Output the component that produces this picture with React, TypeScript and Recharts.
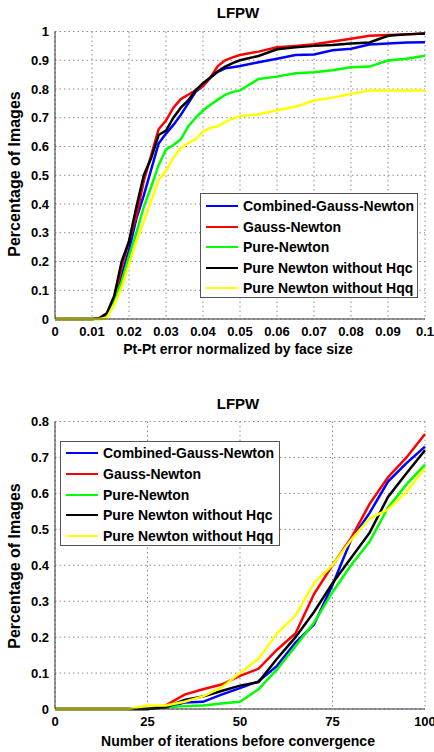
import { LineChart, Line, XAxis, YAxis, CartesianGrid, Legend } from 'recharts';

const FONT = '"Liberation Sans", Arial, sans-serif';

const seriesNames = [
  'Combined-Gauss-Newton',
  'Gauss-Newton',
  'Pure-Newton',
  'Pure Newton without Hqc',
  'Pure Newton without Hqq',
];
const seriesKeys = ['cgn', 'gn', 'pn', 'hqc', 'hqq'];
const seriesColors = ['#0000ff', '#ff0000', '#00ff00', '#000000', '#ffff00'];

// top chart: cumulative error curve
const errX = [
  0, 0.01, 0.012, 0.014, 0.016, 0.018, 0.02, 0.022, 0.024, 0.026, 0.028, 0.03, 0.032, 0.034, 0.036,
  0.038, 0.04, 0.042, 0.044, 0.046, 0.048, 0.05, 0.055, 0.06, 0.065, 0.07, 0.075, 0.08, 0.085, 0.09,
  0.095, 0.1,
];
const errCgn = [
  0, 0, 0.002, 0.012, 0.06, 0.15, 0.24, 0.35, 0.43, 0.52, 0.61, 0.645, 0.675, 0.71, 0.75, 0.79, 0.81,
  0.84, 0.86, 0.872, 0.876, 0.88, 0.893, 0.905, 0.918, 0.92, 0.935, 0.94, 0.955, 0.958, 0.962, 0.963,
];
const errGn = [
  0, 0, 0.002, 0.015, 0.06, 0.18, 0.27, 0.36, 0.48, 0.57, 0.66, 0.69, 0.735, 0.765, 0.78, 0.795, 0.81,
  0.84, 0.88, 0.9, 0.91, 0.918, 0.93, 0.945, 0.95, 0.956, 0.965, 0.975, 0.985, 0.988, 0.99, 0.993,
];
const errPn = [
  0, 0, 0, 0.005, 0.06, 0.13, 0.22, 0.3, 0.39, 0.46, 0.535, 0.59, 0.605, 0.625, 0.67, 0.7, 0.725, 0.745,
  0.763, 0.78, 0.79, 0.795, 0.835, 0.843, 0.855, 0.858, 0.865, 0.876, 0.878, 0.899, 0.905, 0.916,
];
const errHqc = [
  0, 0, 0.003, 0.02, 0.08, 0.2, 0.27, 0.39, 0.5, 0.56, 0.64, 0.655, 0.7, 0.735, 0.76, 0.795, 0.82, 0.84,
  0.862, 0.878, 0.89, 0.9, 0.915, 0.938, 0.945, 0.95, 0.953, 0.958, 0.962, 0.985, 0.99, 0.993,
];
const errHqq = [
  0, 0, 0, 0.004, 0.05, 0.11, 0.19, 0.27, 0.34, 0.41, 0.485, 0.515, 0.56, 0.595, 0.612, 0.625, 0.652,
  0.665, 0.67, 0.685, 0.697, 0.705, 0.712, 0.726, 0.738, 0.76, 0.77, 0.783, 0.795, 0.795, 0.795, 0.795,
];

// bottom chart: iterations before convergence
const iterX = [0, 5, 10, 15, 20, 25, 30, 35, 40, 45, 50, 55, 60, 65, 70, 75, 80, 85, 90, 95, 100];
const iterCgn = [
  0, 0, 0, 0, 0, 0, 0.005, 0.018, 0.02, 0.04, 0.058, 0.077, 0.12, 0.185, 0.235, 0.345, 0.47, 0.545,
  0.633, 0.684, 0.73,
];
const iterGn = [
  0, 0, 0, 0, 0, 0, 0.01, 0.04, 0.055, 0.068, 0.092, 0.112, 0.165, 0.21, 0.32, 0.4, 0.475, 0.57, 0.645,
  0.7, 0.765,
];
const iterPn = [
  0, 0, 0, 0, 0, 0, 0.005, 0.008, 0.01, 0.015, 0.02, 0.055, 0.11, 0.175, 0.24, 0.325, 0.4, 0.465, 0.56,
  0.625, 0.68,
];
const iterHqc = [
  0, 0, 0, 0, 0, 0, 0.005, 0.025, 0.035, 0.05, 0.065, 0.075, 0.14, 0.2, 0.27, 0.35, 0.42, 0.49, 0.59,
  0.656, 0.72,
];
const iterHqq = [
  0, 0, 0, 0, 0, 0.01, 0.01, 0.02, 0.035, 0.06, 0.1, 0.14, 0.21, 0.26, 0.35, 0.4, 0.47, 0.53, 0.555,
  0.605, 0.67,
];

const errTicksX = [0, 0.01, 0.02, 0.03, 0.04, 0.05, 0.06, 0.07, 0.08, 0.09, 0.1];
const errTicksY = [0, 0.1, 0.2, 0.3, 0.4, 0.5, 0.6, 0.7, 0.8, 0.9, 1];
const iterTicksX = [0, 25, 50, 75, 100];
const iterTicksY = [0, 0.1, 0.2, 0.3, 0.4, 0.5, 0.6, 0.7, 0.8];

const toRows = (xs: number[], cols: number[][]) =>
  xs.map((x, i) => {
    const row: Record<string, number> = { x };
    seriesKeys.forEach((k, j) => (row[k] = cols[j][i]));
    return row;
  });

const errData = toRows(errX, [errCgn, errGn, errPn, errHqc, errHqq]);
const iterData = toRows(iterX, [iterCgn, iterGn, iterPn, iterHqc, iterHqq]);

const tickStyle = { fill: '#000', fontSize: 13, fontWeight: 'bold', fontFamily: FONT };

const BoxLegend = ({ padTop, padLeft }: { padTop: number; padLeft: number }) => (
  <div
    style={{
      boxSizing: 'border-box',
      width: '100%',
      height: 105,
      border: '1px solid #555',
      background: '#fff',
      paddingTop: padTop,
      paddingLeft: padLeft,
      fontFamily: FONT,
      fontSize: 14,
      fontWeight: 'bold',
      color: '#000',
    }}
  >
    {seriesNames.map((name, i) => (
      <div key={name} style={{ display: 'flex', alignItems: 'center', height: 20.65 }}>
        <span style={{ width: 32, height: 0, borderTop: `2.5px solid ${seriesColors[i]}`, marginRight: 5 }} />
        <span style={{ whiteSpace: 'nowrap' }}>{name}</span>
      </div>
    ))}
  </div>
);

const Text = ({ x, y, size, rotate, children }: any) => (
  <div
    style={{
      position: 'absolute',
      left: x,
      top: y,
      transform: `translate(-50%, -50%)${rotate ? ' rotate(-90deg)' : ''}`,
      fontFamily: FONT,
      fontWeight: 'bold',
      fontSize: size,
      lineHeight: 1,
      whiteSpace: 'nowrap',
      color: '#000',
    }}
  >
    {children}
  </div>
);

const Panel = ({ data, ticksX, ticksY, domainX, domainY, height, top, legendPos, legendPad }: any) => (
  <div style={{ position: 'absolute', left: 0, top }}>
    <LineChart width={434} height={height} data={data} margin={{ top: height - 21 - 287.5, right: 9, bottom: 0, left: 20 }}>
      <CartesianGrid stroke="#8a8a8a" strokeDasharray="1.5 3" />
      <XAxis
        dataKey="x"
        type="number"
        domain={domainX}
        ticks={ticksX}
        height={21}
        tickLine={false}
        tickSize={4}
        tickMargin={4}
        axisLine={{ stroke: '#333' }}
        tick={tickStyle}
        interval={0}
      />
      <YAxis
        type="number"
        domain={domainY}
        ticks={ticksY}
        width={35}
        tickLine={false}
        tickSize={4}
        tickMargin={2}
        axisLine={{ stroke: '#333' }}
        tick={tickStyle}
        interval={0}
      />
      <Legend
        layout="vertical"
        align="center"
        verticalAlign="middle"
        wrapperStyle={{ left: legendPos[0], top: legendPos[1], width: legendPos[2], height: 105 }}
        content={() => <BoxLegend padTop={legendPad} padLeft={5} />}
      />
      {seriesKeys.map((k, i) => (
        <Line
          key={k}
          type="linear"
          dataKey={k}
          name={seriesNames[i]}
          stroke={seriesColors[i]}
          strokeWidth={2.5}
          dot={false}
          isAnimationActive={false}
        />
      ))}
    </LineChart>
  </div>
);

export default function App() {
  return (
    <div style={{ position: 'absolute', left: 0, top: 0, width: 434, height: 752, background: '#fff', overflow: 'hidden' }}>
      <Panel
        data={errData}
        ticksX={errTicksX}
        ticksY={errTicksY}
        domainX={[0, 0.1]}
        domainY={[0, 1]}
        height={340}
        top={0}
        legendPos={[200, 193, 218]}
        legendPad={1.6}
      />
      <Panel
        data={iterData}
        ticksX={iterTicksX}
        ticksY={iterTicksY}
        domainX={[0, 100]}
        domainY={[0, 0.8]}
        height={350}
        top={380}
        legendPos={[60, 61, 220]}
        legendPad={1}
      />
      <Text x={238} y={11.5} size={15}>LFPW</Text>
      <Text x={238} y={349} size={14}>Pt-Pt error normalized by face size</Text>
      <Text x={15} y={174} size={16} rotate>Percentage of Images</Text>
      <Text x={238} y={402.5} size={15}>LFPW</Text>
      <Text x={238} y={741} size={14}>Number of iterations before convergence</Text>
      <Text x={15} y={565.5} size={16} rotate>Percentage of Images</Text>
    </div>
  );
}
